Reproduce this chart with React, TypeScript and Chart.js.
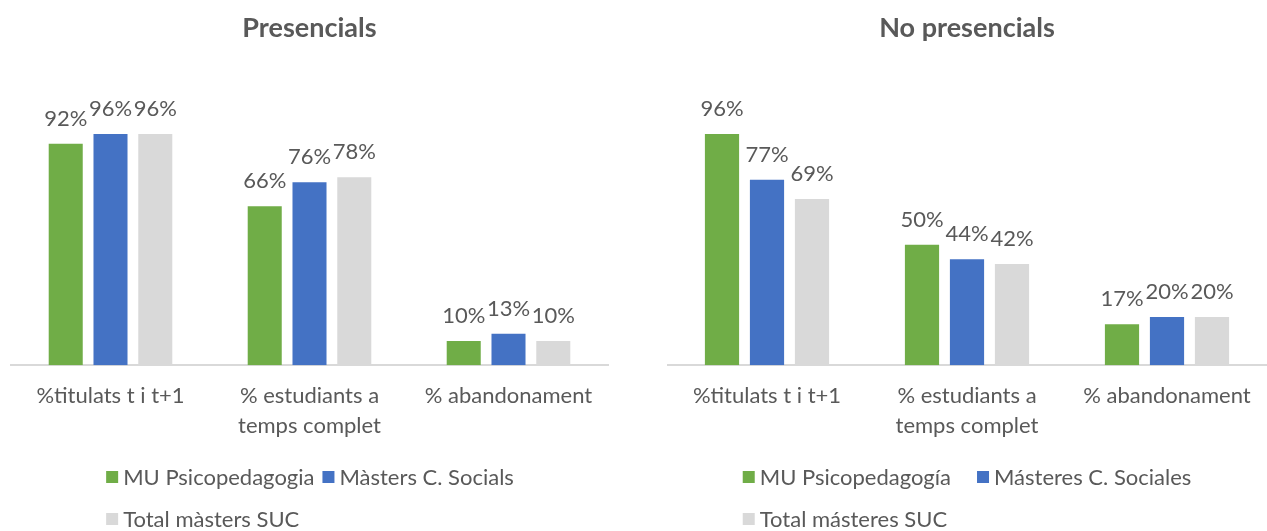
import React, { useEffect, useRef } from 'react';
import { Chart, registerables } from 'chart.js';

Chart.register(...registerables);

// ---- data ----
const categories: string[][] = [['%titulats t i t+1'], ['% estudiants a', 'temps complet'], ['% abandonament']];

const leftTitle = 'Presencials';
const rightTitle = 'No presencials';

const leftSeriesNames = ['MU Psicopedagogia', 'Màsters C. Socials', 'Total màsters SUC'];
const rightSeriesNames = ['MU Psicopedagogía', 'Másteres C. Sociales', 'Total másteres SUC'];

const leftMU = [92, 66, 10];
const leftMasters = [96, 76, 13];
const leftTotal = [96, 78, 10];

const rightMU = [96, 50, 17];
const rightMasters = [77, 44, 20];
const rightTotal = [69, 42, 20];

const seriesColors = ['#70AD47', '#4472C4', '#D9D9D9'];

const FONT = 'Lato';
const TEXT = '#595959';

const dataLabelPlugin = {
  id: 'dataLabels',
  afterDatasetsDraw(chart: any) {
    const ctx = chart.ctx;
    ctx.save();
    ctx.font = `22px ${FONT}`;
    ctx.fillStyle = TEXT;
    ctx.textAlign = 'center';
    ctx.textBaseline = 'middle';
    chart.data.datasets.forEach((ds: any, i: number) => {
      const meta = chart.getDatasetMeta(i);
      meta.data.forEach((el: any, j: number) => {
        ctx.fillText(`${Math.round(ds.data[j])}%`, el.x, el.y - 25);
      });
    });
    ctx.restore();
  },
};

const customLegendPlugin = {
  id: 'customLegend',
  afterDraw(chart: any, _args: any, opts: any) {
    const ctx = chart.ctx;
    const box = 12;
    const textGap = 5;
    const itemGap = opts.itemGap ?? 10;
    ctx.save();
    ctx.font = `22px ${FONT}`;
    ctx.textBaseline = 'middle';
    ctx.textAlign = 'left';
    const ds = chart.data.datasets;
    const w = (i: number) => box + textGap + ctx.measureText(ds[i].label).width;
    const row1 = w(0) + itemGap + w(1);
    const startX = chart.width / 2 - row1 / 2;
    const rows = [
      { y: opts.row1Y, items: [0, 1] },
      { y: opts.row2Y, items: [2] },
    ];
    rows.forEach((r) => {
      let x = startX;
      r.items.forEach((i) => {
        ctx.fillStyle = ds[i].backgroundColor;
        ctx.fillRect(x, r.y - box / 2, box, box);
        ctx.fillStyle = TEXT;
        ctx.fillText(ds[i].label, x + box + textGap, r.y + 1);
        x += w(i) + itemGap;
      });
    });
    ctx.restore();
  },
};

function makeConfig(title: string, names: string[], series: number[][], padL: number, padR: number, itemGap: number): any {
  return {
    type: 'bar',
    data: {
      labels: categories,
      datasets: series.map((s, i) => ({
        label: names[i],
        data: s,
        backgroundColor: seriesColors[i],
        borderWidth: 0,
        categoryPercentage: 0.675,
        barPercentage: 0.76,
      })),
    },
    options: {
      responsive: false,
      animation: false,
      layout: { padding: { left: padL, right: padR, top: 0, bottom: 74 } },
      plugins: {
        legend: { display: false },
        tooltip: { enabled: false },
        title: {
          display: true,
          text: title,
          color: TEXT,
          font: { family: FONT, size: 27, weight: 'bold', lineHeight: 1.2 },
          padding: { top: 12, bottom: 80 },
        },
        customLegend: { row1Y: 477, row2Y: 519, itemGap },
      },
      scales: {
        x: {
          grid: { display: false, drawTicks: false },
          border: { display: true, color: '#D9D9D9', width: 2 },
          ticks: {
            color: TEXT,
            padding: 16,
            maxRotation: 0,
            autoSkip: false,
            font: { family: FONT, size: 22, lineHeight: 1.36 },
          },
        },
        y: {
          display: false,
          min: 0,
          max: 100,
        },
      },
    },
    plugins: [dataLabelPlugin, customLegendPlugin],
  };
}

function ChartCanvas({ config, left, width }: { config: any; left: number; width: number }) {
  const ref = useRef<HTMLCanvasElement>(null);
  useEffect(() => {
    if (!ref.current) return;
    const chart = new Chart(ref.current, config);
    return () => chart.destroy();
  }, [config]);
  return (
    <canvas
      ref={ref}
      width={width}
      height={531}
      style={{ position: 'absolute', left, top: 0, width, height: 531, display: 'block' }}
    />
  );
}

const leftConfig = makeConfig(leftTitle, leftSeriesNames, [leftMU, leftMasters, leftTotal], 11, 12, 8);
const rightConfig = makeConfig(rightTitle, rightSeriesNames, [rightMU, rightMasters, rightTotal], 0, 0, 26);

export default function App() {
  return (
    <div style={{ position: 'absolute', left: 0, top: 0, width: 1267, height: 531, background: '#fff' }}>
      <ChartCanvas config={leftConfig} left={0} width={620} />
      <ChartCanvas config={rightConfig} left={667} width={600} />
    </div>
  );
}
